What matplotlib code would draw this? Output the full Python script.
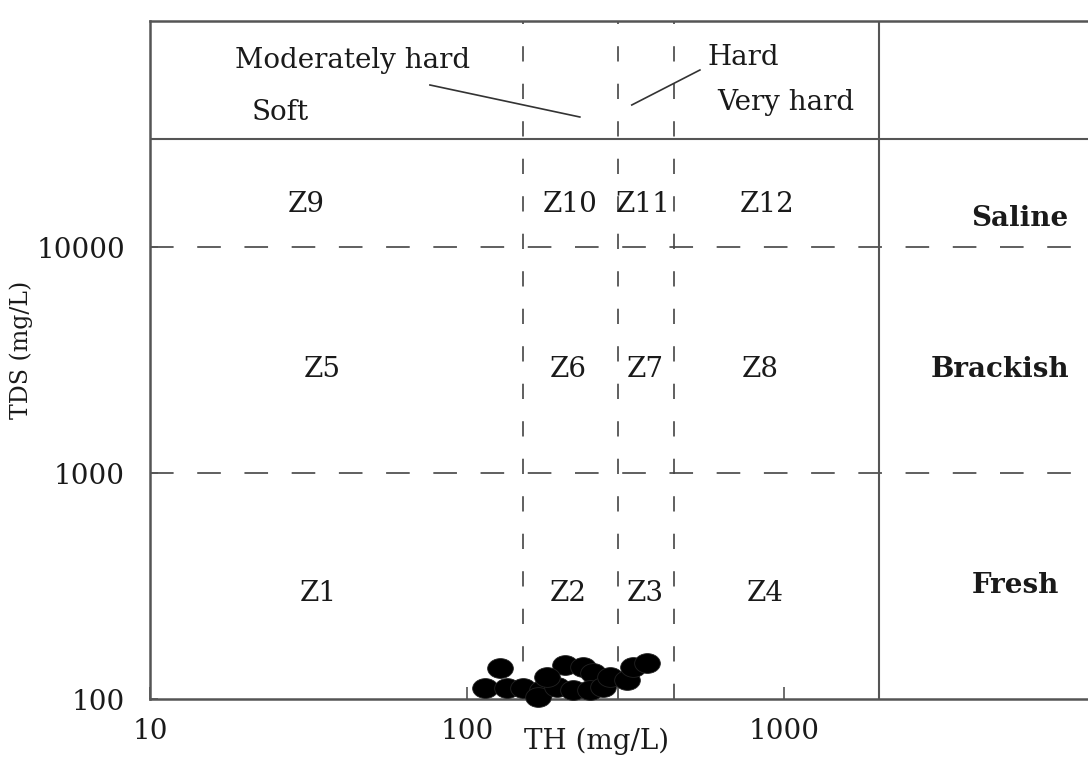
import matplotlib
matplotlib.use("Agg")
import matplotlib.pyplot as plt
from matplotlib.path import Path

# Sample total hardness (TH) and total dissolved solids (TDS), mg/L
th_values = [127, 114, 134, 150, 173, 168, 204, 232, 250, 192, 216, 244, 269, 283, 320, 334, 370, 179]
tds_values = [137, 112, 112, 112, 110, 102, 141, 139, 130, 113, 110, 110, 113, 125, 121, 139, 144, 125]

# Class boundaries
hardness_limits = [150, 300, 450]
tds_limits = [1000, 10000]
header_limit = 30000
th_panel_limit = 2000

x_ticks = [10, 100, 1000]
x_tick_labels = ["10", "100", "1000"]
y_ticks = [100, 1000, 10000]
y_tick_labels = ["100", "1000", "10000"]

# Zone labels and where they sit (TH, TDS)
zone_names = ["Z1", "Z2", "Z3", "Z4", "Z5", "Z6", "Z7", "Z8", "Z9", "Z10", "Z11", "Z12"]
zone_th = [34, 208, 365, 871, 35, 208, 365, 840, 31, 211, 359, 883]
zone_tds = [294, 294, 294, 294, 2884, 2884, 2884, 2884, 15350, 15350, 15350, 15350]

salinity_names = ["Fresh", "Brackish", "Saline"]
salinity_th = [5360, 4800, 5546]
salinity_tds = [319, 2884, 13430]

hardness_names = ["Soft", "Moderately hard", "Hard", "Very hard"]
hardness_th = [25.7, 43.7, 743, 1014]
hardness_tds = [39500, 67100, 68600, 43400]

# Leader lines from the header labels to their classes
leader_th = [[76.4, 227], [331, 543]]
leader_tds = [[52100, 37600], [42500, 60700]]

plt.rcParams["font.family"] = ["DejaVu Serif"]
plt.rcParams["lines.scale_dashes"] = False

line_col = "#555555"
dash_col = "#444444"
text_col = "#1a1a1a"

fig = plt.figure(figsize=(10.88, 7.65), dpi=100)
ax = fig.add_axes([150 / 1088, 1 - 699 / 765, 951 / 1088, 678 / 765])
ax.set_xscale("log")
ax.set_yscale("log")
ax.set_xlim(10, 10000)
ax.set_ylim(100, 100000)

for side in ["left", "top", "bottom", "right"]:
    ax.spines[side].set_color(line_col)
    ax.spines[side].set_linewidth(1.8)

# Horizontal salinity boundaries
for v in tds_limits:
    ax.axhline(v, color=dash_col, lw=1.2, dashes=(17, 17), zorder=1)
# Vertical hardness boundaries
for v in hardness_limits:
    ax.axvline(v, color=dash_col, lw=1.2, dashes=(11, 16), zorder=1)
# Solid panel separators
ax.axhline(header_limit, color=line_col, lw=1.5, zorder=1)
ax.axvline(th_panel_limit, color=line_col, lw=1.5, zorder=1)

# Header leader lines
for xs, ys in zip(leader_th, leader_tds):
    ax.plot(xs, ys, color="#333333", lw=1.2)

fs = 20
for name, x, y in zip(zone_names, zone_th, zone_tds):
    ax.text(x, y, name, ha="center", va="center", fontsize=fs, color=text_col)
for name, x, y in zip(salinity_names, salinity_th, salinity_tds):
    ax.text(x, y, name, ha="center", va="center", fontsize=fs, color=text_col,
            fontweight="bold")
for name, x, y in zip(hardness_names, hardness_th, hardness_tds):
    ax.text(x, y, name, ha="center", va="center", fontsize=fs, color=text_col)

# Sample points drawn as slightly flattened discs
circle = Path.unit_circle()
disc = Path(circle.vertices * [1.3, 1.0], circle.codes)
ax.plot(th_values, tds_values, linestyle="none", marker=disc, markersize=18.5,
        mfc="black", mec="#222222", mew=0.6, clip_on=False, zorder=4)

ax.set_xticks(x_ticks)
ax.set_xticklabels(x_tick_labels)
ax.set_yticks(y_ticks)
ax.set_yticklabels(y_tick_labels)
ax.minorticks_off()
ax.tick_params(axis="x", which="major", direction="in", length=9, width=1.2,
               color=line_col, pad=14, labelsize=20, labelcolor=text_col)
ax.tick_params(axis="y", which="major", direction="in", length=6, width=1.2,
               color=line_col, pad=18, labelsize=20, labelcolor=text_col)

ax.set_xlabel("TH (mg/L)", fontsize=20, color=text_col, va="center")
ax.xaxis.set_label_coords(0.47, -0.063)
ax.set_ylabel("TDS (mg/L)", fontsize=17, color=text_col, va="center")
ax.yaxis.set_label_coords(-0.135, 0.515)

fig.savefig("out.png", dpi=100, facecolor="white")
